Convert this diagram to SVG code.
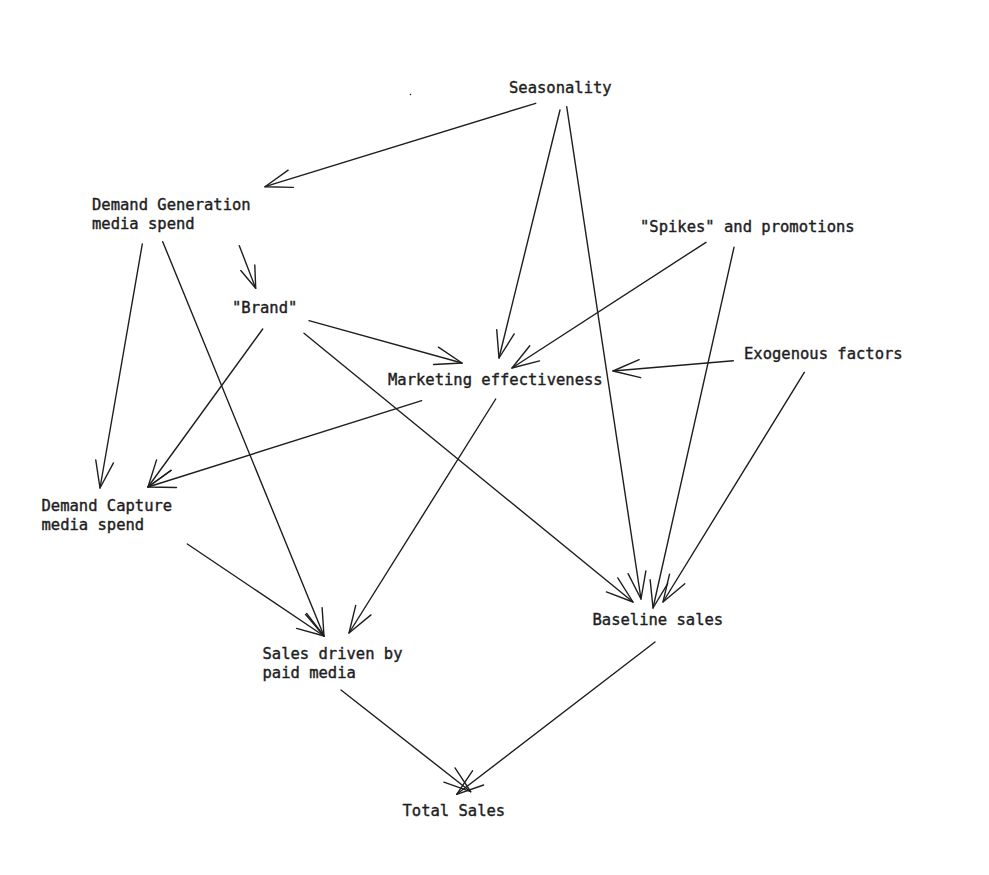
<svg xmlns="http://www.w3.org/2000/svg" width="989" height="875" viewBox="0 0 989 875">
<defs>
<style>
.t{font-family:"DejaVu Sans Mono","Liberation Mono",monospace;font-size:15.5px;fill:#1e1e1e;stroke:#1e1e1e;stroke-width:0.4;}
.c line{stroke:#1e1e1e;stroke-width:1.4;fill:none;stroke-linecap:round;marker-end:url(#ah);}
.c line.s{marker-end:url(#ahs);}
</style>
<marker id="ah" markerUnits="userSpaceOnUse" orient="auto" refX="0" refY="0" markerWidth="60" markerHeight="60" overflow="visible">
<path d="M -27 -9 L 0 0 L -27 9" fill="none" stroke="#1e1e1e" stroke-width="1.4" stroke-linecap="round" stroke-linejoin="round"/>
</marker>
<marker id="ahs" markerUnits="userSpaceOnUse" orient="auto" refX="0" refY="0" markerWidth="60" markerHeight="60" overflow="visible">
<path d="M -22 -7.5 L 0 0 L -22 7.5" fill="none" stroke="#1e1e1e" stroke-width="1.4" stroke-linecap="round" stroke-linejoin="round"/>
</marker>
</defs>
<rect width="989" height="875" fill="#ffffff"/>
<g id="connectors" class="c">
<line x1="535.7" y1="103.3" x2="265" y2="186.7"/>
<line x1="560" y1="110" x2="499" y2="358"/>
<line x1="566.7" y1="106.7" x2="641" y2="599"/>
<line class="s" x1="239.3" y1="245.7" x2="255.7" y2="288.3"/>
<line x1="142.3" y1="244" x2="100" y2="488"/>
<line x1="162.7" y1="241.7" x2="324" y2="636"/>
<line x1="309" y1="320.7" x2="462" y2="363"/>
<line x1="262.7" y1="329" x2="148" y2="487"/>
<line x1="304" y1="333.3" x2="633" y2="602"/>
<line x1="706" y1="242.3" x2="512" y2="368"/>
<line x1="734" y1="247.3" x2="653" y2="608"/>
<line x1="733.3" y1="360.7" x2="613" y2="371"/>
<line x1="804.3" y1="372.3" x2="663" y2="602"/>
<line x1="421.7" y1="400.7" x2="148" y2="487"/>
<line x1="495.7" y1="399" x2="349" y2="633"/>
<line x1="187.3" y1="544" x2="324" y2="636"/>
<line x1="341" y1="690" x2="470.7" y2="791.7"/>
<line x1="655" y1="642" x2="456.7" y2="794.3"/>
</g>
<circle cx="410.5" cy="94.5" r="0.8" fill="#1e1e1e"/>
<g id="seasonality"><text class="t" x="509" y="93">Seasonality</text></g>
<g id="demand-generation"><text class="t" x="92" y="210">Demand Generation</text><text class="t" x="92" y="229">media spend</text></g>
<g id="brand"><text class="t" x="232" y="313">"Brand"</text></g>
<g id="marketing-effectiveness"><text class="t" x="388" y="385">Marketing effectiveness</text></g>
<g id="spikes"><text class="t" x="640" y="232">"Spikes" and promotions</text></g>
<g id="exogenous"><text class="t" x="744" y="359">Exogenous factors</text></g>
<g id="demand-capture"><text class="t" x="41.5" y="511">Demand Capture</text><text class="t" x="41.5" y="530">media spend</text></g>
<g id="sales-paid-media"><text class="t" x="262.5" y="659">Sales driven by</text><text class="t" x="262.5" y="678">paid media</text></g>
<g id="baseline-sales"><text class="t" x="592.5" y="625">Baseline sales</text></g>
<g id="total-sales"><text class="t" x="402.5" y="816">Total Sales</text></g>
</svg>
